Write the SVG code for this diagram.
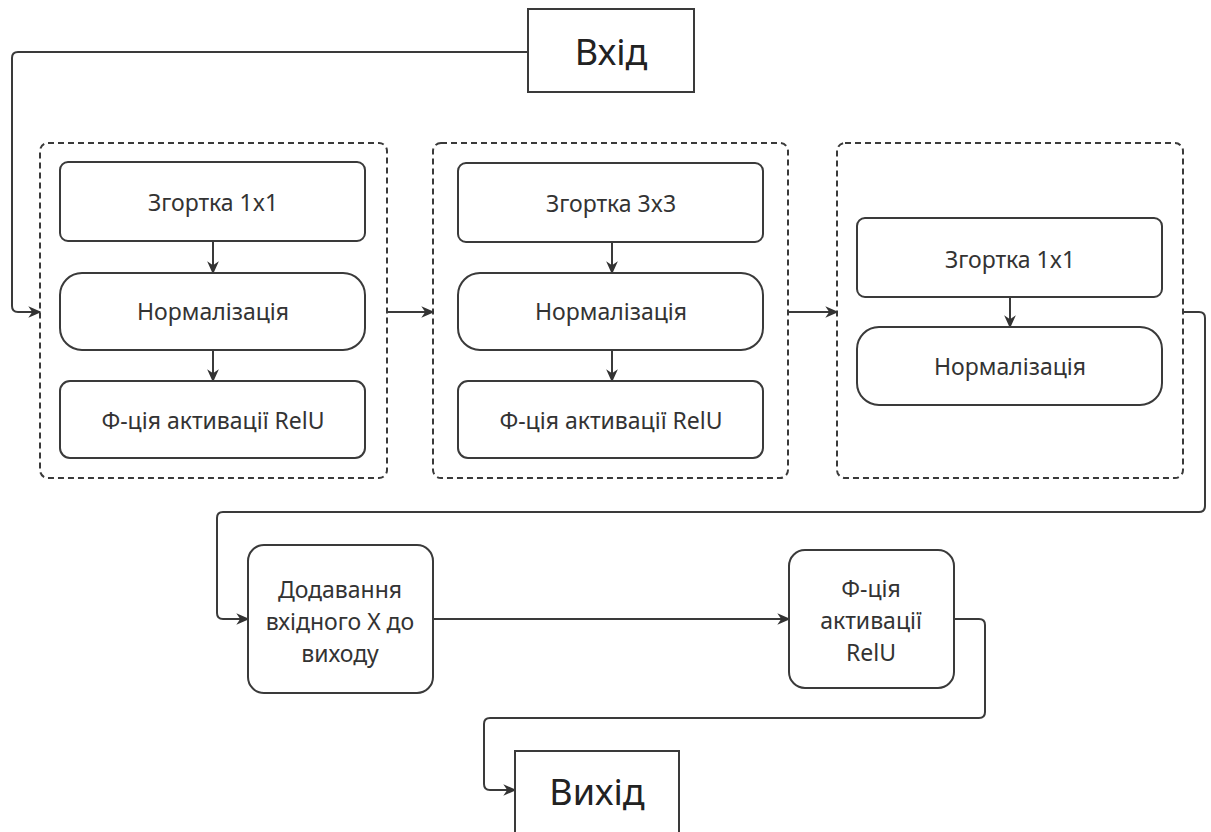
<svg xmlns="http://www.w3.org/2000/svg" width="1211" height="832" viewBox="0 0 1211 832">
<style>
.box{fill:#fff;stroke:#3a3a3a;stroke-width:2}
.grp{fill:none;stroke:#3a3a3a;stroke-width:2;stroke-dasharray:6 4}
.t{font-family:"Noto Sans","Open Sans",sans-serif;font-size:23px;fill:#333;text-anchor:middle;dominant-baseline:central}
.big{font-family:"Noto Sans","Open Sans",sans-serif;font-size:36px;fill:#222;text-anchor:middle;dominant-baseline:central}
.c{fill:none;stroke:#3a3a3a;stroke-width:2}
</style>
<defs>
<marker id="ah" viewBox="0 0 10 10" refX="9" refY="5" markerWidth="13" markerHeight="13" markerUnits="userSpaceOnUse" orient="auto">
<path d="M0,0.5 L10,5 L0,9.5 L3,5 Z" fill="#333"/>
</marker>
</defs>
<rect width="1211" height="832" fill="#fff"/>
<g id="g1"><rect class="grp" x="40" y="143" width="347" height="335" rx="8"/></g>
<g id="g2"><rect class="grp" x="433" y="143" width="355" height="335" rx="8"/></g>
<g id="g3"><rect class="grp" x="837" y="143" width="346" height="335" rx="8"/></g>
<g id="connectors">
<path class="c" d="M528,52 H18 Q12,52 12,58 V306 Q12,312 18,312 H40" marker-end="url(#ah)"/>
<path class="c" d="M213,241 V273" marker-end="url(#ah)"/>
<path class="c" d="M213,350 V381" marker-end="url(#ah)"/>
<path class="c" d="M387,312 H433" marker-end="url(#ah)"/>
<path class="c" d="M612,242 V273" marker-end="url(#ah)"/>
<path class="c" d="M612,350 V381" marker-end="url(#ah)"/>
<path class="c" d="M788,312 H837" marker-end="url(#ah)"/>
<path class="c" d="M1010,297 V327" marker-end="url(#ah)"/>
<path class="c" d="M1183,312 H1199 Q1205,312 1205,318 V506 Q1205,512 1199,512 H223 Q217,512 217,518 V613 Q217,619 223,619 H248" marker-end="url(#ah)"/>
<path class="c" d="M433,619 H789" marker-end="url(#ah)"/>
<path class="c" d="M954,619 H979 Q985,619 985,625 V712 Q985,718 979,718 H490 Q484,718 484,724 V784 Q484,790 490,790 H515" marker-end="url(#ah)"/>
</g>
<g id="in"><rect class="box" x="528" y="9" width="166" height="83"/><text class="big" x="611" y="51">Вхід</text></g>
<g id="n1"><rect class="box" x="60" y="162" width="305" height="79" rx="8"/><text class="t" x="213" y="202">Згортка 1x1</text></g>
<g id="n2"><rect class="box" x="60" y="273" width="305" height="77" rx="22"/><text class="t" x="213" y="311">Нормалізація</text></g>
<g id="n3"><rect class="box" x="60" y="381" width="305" height="77" rx="10"/><text class="t" x="213" y="420">Ф-ція активації RelU</text></g>
<g id="n4"><rect class="box" x="458" y="163" width="305" height="79" rx="8"/><text class="t" x="611" y="203">Згортка 3x3</text></g>
<g id="n5"><rect class="box" x="458" y="273" width="305" height="77" rx="22"/><text class="t" x="611" y="311">Нормалізація</text></g>
<g id="n6"><rect class="box" x="458" y="381" width="305" height="77" rx="10"/><text class="t" x="611" y="420">Ф-ція активації RelU</text></g>
<g id="n7"><rect class="box" x="857" y="218" width="305" height="79" rx="8"/><text class="t" x="1010" y="259">Згортка 1x1</text></g>
<g id="n8"><rect class="box" x="857" y="327" width="305" height="78" rx="22"/><text class="t" x="1010" y="366">Нормалізація</text></g>
<g id="n9"><rect class="box" x="248" y="545" width="185" height="148" rx="16"/><text class="t" x="340" y="589">Додавання</text><text class="t" x="340" y="621">вхідного X до</text><text class="t" x="340" y="653">виходу</text></g>
<g id="n10"><rect class="box" x="789" y="550" width="165" height="138" rx="16"/><text class="t" x="871" y="588">Ф-ція</text><text class="t" x="871" y="620">активації</text><text class="t" x="871" y="652">RelU</text></g>
<g id="out"><rect class="box" x="515" y="751" width="164" height="83"/><text class="big" x="597" y="791">Вихід</text></g>
</svg>
